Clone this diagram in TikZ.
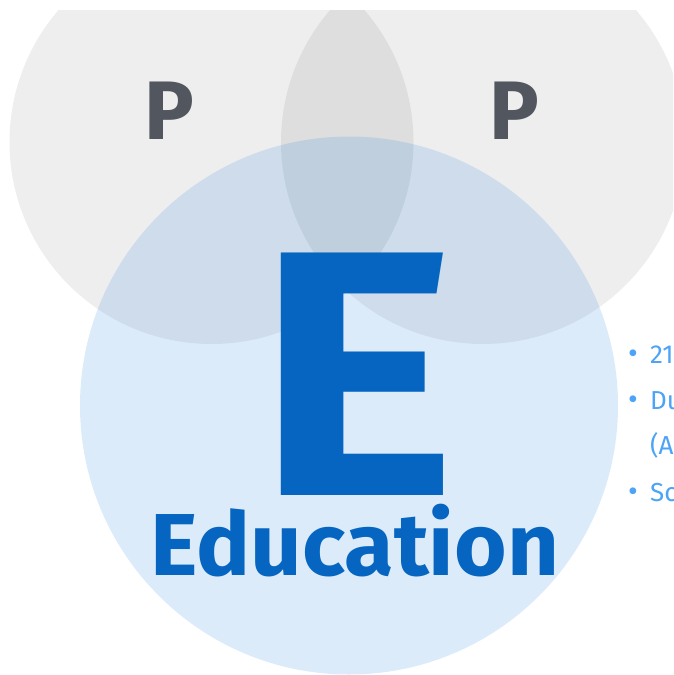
\documentclass[tikz,border=0pt]{standalone}
\usepackage{fontspec}
\setmainfont{Fira Sans}
\usepackage{xcolor}
\definecolor{ColGrey}{RGB}{85,85,85}
\definecolor{ColBlue}{RGB}{22,122,222}
\definecolor{ColE}{RGB}{5,101,192}
\definecolor{ColP}{RGB}{82,87,95}
\definecolor{ColList}{RGB}{77,163,245}
\usepackage{tikz}
\tikzstyle{GreyDisc}=[fill=ColGrey,fill opacity=.1,draw=none]
\tikzstyle{BlueDisc}=[fill=ColBlue,fill opacity=.15,draw=none]
\tikzstyle{Letter}=[inner sep=0pt,anchor=base,font=\bfseries]
\tikzstyle{ItemDot}=[inner sep=0pt,anchor=base,text=ColList,
font=\fontsize{30}{30}\selectfont]
\tikzstyle{ItemText}=[inner sep=0pt,anchor=base west,text=ColList,
font=\fontsize{26}{26}\selectfont]

\begin{document}
\begin{tikzpicture}[x=1pt,y=-1pt]
        \useasboundingbox(0,0)rectangle(673,675);
        \begin{scope}
            \clip(0,10)rectangle(673,675);
            \fill[GreyDisc](211.5,142)circle[radius=202pt];
            \fill[GreyDisc](483,142)circle[radius=202pt];
            \fill[BlueDisc](349,405.5)circle[radius=269pt];
        \end{scope}
        \node[Letter,text=ColP,font=\bfseries\fontsize{83}{83}\selectfont]
            (pl)at(169.5,139){P};
        \node[Letter,text=ColP,font=\bfseries\fontsize{83}{83}\selectfont]
            (pr)at(514.5,139){P};
        \node[Letter,text=ColE,font=\bfseries\fontsize{350}{350}\selectfont]
            (e)at(357,495){\scalebox{1.09}[1]{E}};
        \node[Letter,text=ColE,font=\bfseries\fontsize{88}{88}\selectfont]
            (edu)at(355,575){\scalebox{1.025}[1]{Education}};
        \node[ItemDot](d1)at(633,363){•};
        \node[ItemText](t1)at(650,363){21};
        \node[ItemDot](d2)at(633,409){•};
        \node[ItemText](t2)at(650,409){Du};
        \node[ItemText](t3)at(650,454){(A};
        \node[ItemDot](d4)at(633,501){•};
        \node[ItemText](t4)at(650,501){Sc};
    \end{tikzpicture}
\end{document}
